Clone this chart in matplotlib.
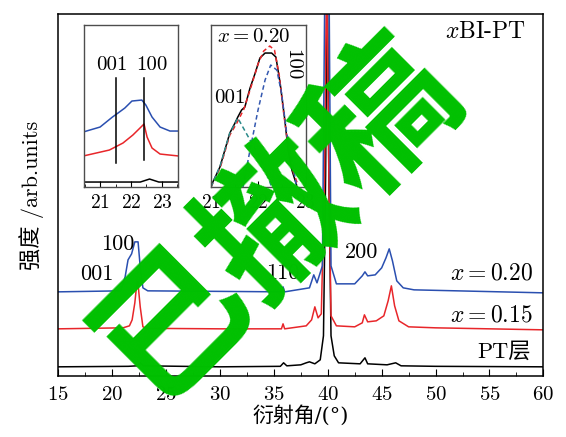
import matplotlib
matplotlib.use("Agg")
import matplotlib.pyplot as plt
from matplotlib.ticker import MultipleLocator

plt.rcParams['font.family'] = ['cmr10', 'Noto Sans CJK SC', 'DejaVu Sans']
plt.rcParams['mathtext.fontset'] = 'cm'
plt.rcParams['axes.formatter.use_mathtext'] = True
plt.rcParams['axes.unicode_minus'] = False

# main XRD patterns (2theta in degrees, intensity in arb. units incl. offset)
pt_x = [15, 21.5, 22.3, 22.6, 22.9, 30, 35.6, 35.9, 36.2, 37.5, 38.0, 38.3, 38.8,
        39.3, 39.6, 39.8, 39.95, 40.1, 40.3, 40.6, 41.0, 43.0, 43.45, 43.7, 45.5,
        46.3, 46.8, 50, 60]
pt_y = [9, 9.5, 10, 13, 10, 9, 9.5, 13, 10, 11, 13, 14, 12,
        16, 40, 200, 420, 200, 40, 20, 13, 12, 18, 12, 11,
        13, 10, 9.5, 9]

x15_x = [15, 21.0, 21.6, 21.85, 22.1, 22.3, 22.38, 22.6, 22.85, 23.2, 30, 35.7,
         35.85, 36.0, 38.0, 38.5, 38.8, 39.1, 39.4, 39.7, 39.9, 40.1, 40.3, 40.8,
         42.5, 43.2, 43.4, 43.7, 44.5, 45.2, 45.6, 45.9, 46.2, 46.6, 47.5, 50, 60]
x15_y = [47, 48, 50, 56, 73, 94, 94, 69, 49, 47.5, 47, 47,
         52, 47, 50, 56, 69, 58, 62, 200, 420, 200, 60, 50,
         49, 53, 61, 54, 55, 60, 75, 90, 70, 55, 49, 48, 46]

x20_x = [15, 20.8, 21.2, 21.47, 21.8, 22.1, 22.4, 22.6, 22.85, 23.3, 35.7,
         35.85, 36.0, 38.3, 38.7, 39.0, 39.5, 39.75, 40.1, 40.3, 40.8, 42.5,
         43.2, 43.45, 43.7, 44.4, 45.0, 45.4, 45.7, 46.0, 46.4, 47.0, 48, 60]
x20_y = [84, 85, 99, 116, 122, 134, 134, 109, 88, 85, 84,
         89, 84, 88, 101, 93, 110, 420, 420, 110, 92, 92,
         100, 104, 100, 101, 108, 118, 127, 115, 95, 88, 86, 83]

# inset 1: zoom of 20-24 degrees
in1_x20_x = [20.45, 21.0, 21.4, 21.58, 21.8, 22.03, 22.35, 22.48, 22.68, 22.94, 23.26, 23.55]
in1_x20_y = [55, 60, 70, 74, 79, 86, 87, 82, 70, 60, 56, 56]
in1_x15_x = [20.45, 21.3, 21.74, 22.06, 22.29, 22.42, 22.52, 22.68, 22.94, 23.55]
in1_x15_y = [31, 37, 44, 52, 59, 63, 50, 39, 33, 31]
in1_pt_x = [20.45, 22.3, 22.6, 22.9, 23.55]
in1_pt_y = [5, 5, 8, 5, 5]

# inset 2: peak fit of x = 0.20
fit_x = [21.01, 21.19, 21.4, 21.51, 21.57, 21.65, 21.72, 21.83, 21.94, 22.04, 22.15,
         22.29, 22.38, 22.47, 22.57, 22.64, 22.72, 22.82]
fit_meas = [2, 20, 54, 64, 70, 77, 80, 99, 114, 129, 134,
            134, 130, 104, 67, 37, 17, 2]
sum_x = [21.0, 21.2, 21.4, 21.55, 21.7, 21.85, 22.0, 22.12, 22.25, 22.35, 22.45,
         22.55, 22.65, 22.75, 22.85]
sum_y = [0, 20, 52, 64, 78, 100, 123, 136, 141, 137, 112, 72, 38, 15, 2]
p001_x = [21.0, 21.2, 21.4, 21.57, 21.83, 22.04, 22.18, 22.29]
p001_y = [0, 22, 54, 69, 47, 30, 14, 0]
p100_x = [21.68, 21.83, 22.0, 22.15, 22.27, 22.4, 22.5, 22.61, 22.75, 22.82]
p100_y = [0, 37, 77, 107, 122, 117, 94, 54, 20, 0]

blue = '#2a4fb0'
red = '#e8262a'

fig = plt.figure(figsize=(5.66, 4.37), dpi=100)
ax = fig.add_axes([0.103, 0.140, 0.857, 0.827])
ax.plot(pt_x, pt_y, color='black', lw=1.1)
ax.plot(x15_x, x15_y, color=red, lw=1.1)
ax.plot(x20_x, x20_y, color=blue, lw=1.1)
ax.set_xlim(15, 60)
ax.set_ylim(0, 361.5)
ax.set_yticks([])
ax.xaxis.set_major_locator(MultipleLocator(5))
ax.xaxis.set_minor_locator(MultipleLocator(2.5))
ax.tick_params(axis='x', which='major', direction='in', length=5, labelsize=15, pad=7)
ax.tick_params(axis='x', which='minor', direction='in', length=3)
for s in ax.spines.values():
    s.set_linewidth(1.1)
ax.set_xlabel('衍射角/(°)', fontsize=15, labelpad=1,
              family=['DejaVu Serif', 'Noto Sans CJK SC'])
ax.set_ylabel('强度 /arb.units', fontsize=16, labelpad=10)

ax.text(20.55, 132, '100', fontsize=16, ha='center', va='center')
ax.text(18.6, 102, '001', fontsize=16, ha='center', va='center')
ax.text(35.85, 103, '110', fontsize=16, ha='center', va='center')
ax.text(43.1, 124, '200', fontsize=16, ha='center', va='center')
ax.text(59.0, 102, '$x=0.20$', fontsize=17, ha='right', va='center')
ax.text(59.0, 60, '$x=0.15$', fontsize=17, ha='right', va='center')
ax.text(58.8, 24, 'PT层', fontsize=16, ha='right', va='center')
ax.text(58.4, 344, '$x$BI-PT', fontsize=17, ha='right', va='center')

ins1 = fig.add_axes([0.1484, 0.572, 0.1661, 0.3707])
ins1.plot(in1_pt_x, in1_pt_y, color='black', lw=1.1)
ins1.plot(in1_x15_x, in1_x15_y, color=red, lw=1.1)
ins1.plot(in1_x20_x, in1_x20_y, color=blue, lw=1.1)
ins1.plot([21.52, 21.52], [24, 109], color='black', lw=1.1)
ins1.plot([22.42, 22.42], [27, 109], color='black', lw=1.1)
ins1.text(21.39, 122, '001', fontsize=15, ha='center', va='center')
ins1.text(22.68, 122, '100', fontsize=15, ha='center', va='center')
ins1.set_xlim(20.48, 23.52)
ins1.set_ylim(0, 162)

ins2 = fig.add_axes([0.3728, 0.572, 0.1678, 0.3707])
ins2.plot(fit_x, fit_meas, color='black', lw=1.1)
ins2.plot(sum_x, sum_y, color=red, lw=1.1, ls=(0, (3, 2)))
ins2.plot(p001_x, p001_y, color='#2a8a8a', lw=1.1, ls=(0, (3, 2)))
ins2.plot(p100_x, p100_y, color='#3458b0', lw=1.1, ls=(0, (3, 2)))
ins2.text(21.9, 150, '$x=0.20$', fontsize=15, ha='center', va='center')
ins2.text(21.4, 89, '001', fontsize=15, ha='center', va='center')
ins2.text(22.72, 122, '100', fontsize=15, ha='center', va='center', rotation=-90)
ins2.set_xlim(21.0, 23.02)
ins2.set_ylim(0, 162)

for a in (ins1, ins2):
    a.set_yticks([])
    a.set_xticks([21, 22, 23])
    a.xaxis.set_minor_locator(MultipleLocator(0.5))
    a.tick_params(axis='x', which='major', direction='in', length=4, labelsize=14, pad=5)
    a.tick_params(axis='x', which='minor', direction='in', length=2)
    for s in a.spines.values():
        s.set_color('0.3')
        s.set_linewidth(1.0)

fig.text(0.49, 0.505, '已撤稿', fontsize=106, color='#00c000', weight='bold',
         family=['Noto Sans CJK SC'], rotation=45, ha='center', va='center',
         zorder=10)

fig.savefig('out.png', dpi=100)
